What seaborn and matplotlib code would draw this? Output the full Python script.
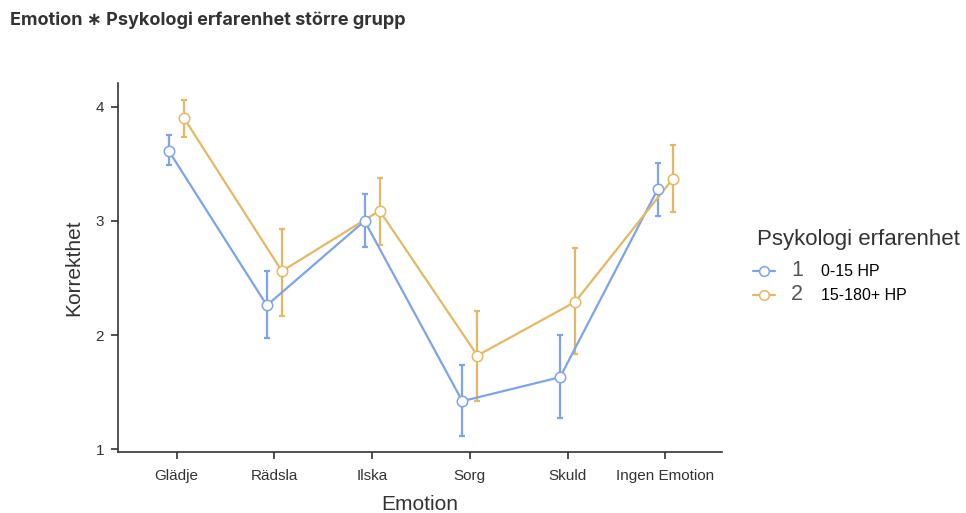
import matplotlib
matplotlib.use("Agg")
import matplotlib.pyplot as plt
import seaborn as sns
import pandas as pd
from matplotlib.lines import Line2D

emotions = ["Glädje", "Rädsla", "Ilska", "Sorg", "Skuld", "Ingen Emotion"]
groups = ["1", "2"]
group_desc = ["0-15 HP", "15-180+ HP"]

mean_g1 = [3.61, 2.26, 3.00, 1.42, 1.63, 3.28]
low_g1 = [3.49, 1.97, 2.77, 1.11, 1.27, 3.04]
high_g1 = [3.75, 2.56, 3.24, 1.74, 2.00, 3.51]

mean_g2 = [3.90, 2.56, 3.09, 1.82, 2.29, 3.37]
low_g2 = [3.74, 2.17, 2.79, 1.42, 1.83, 3.08]
high_g2 = [4.06, 2.93, 3.38, 2.21, 2.76, 3.67]

colors = ["#7DA4E8", "#E4B864"]

sns.set_theme(style="ticks")
plt.rcParams["font.family"] = ["Liberation Sans", "DejaVu Sans"]

fig = plt.figure(figsize=(9.66, 5.13), dpi=100)
ax = fig.add_axes([118 / 966, 1 - 452 / 513, (722 - 118) / 966, (452 - 83) / 513])

offset = 0.077
rows = []
for gi, (m, lo, hi) in enumerate([(mean_g1, low_g1, high_g1), (mean_g2, low_g2, high_g2)]):
    for ei, e in enumerate(emotions):
        rows.append({"pos": ei + (gi * 2 - 1) * offset, "Emotion": e,
                     "grupp": groups[gi], "mean": m[ei], "lo": lo[ei], "hi": hi[ei]})
df = pd.DataFrame(rows)

for gi, g in enumerate(groups):
    sub = df[df["grupp"] == g]
    ax.errorbar(sub["pos"], sub["mean"],
                yerr=[sub["mean"] - sub["lo"], sub["hi"] - sub["mean"]],
                fmt="none", ecolor=colors[gi], elinewidth=1.6, capsize=2.2,
                capthick=1.6, zorder=2)

sns.lineplot(data=df, x="pos", y="mean", hue="grupp", palette=colors,
             linewidth=1.6, legend=False, ax=ax, zorder=3, sort=True)
for gi, g in enumerate(groups):
    sub = df[df["grupp"] == g]
    ax.plot(sub["pos"], sub["mean"], linestyle="none", marker="o", markersize=7.5,
            markerfacecolor="white", markeredgecolor=colors[gi],
            markeredgewidth=1.1, zorder=4)

ax.set_xlim(-0.60, 5.58)
ax.set_ylim(0.974, 4.21)
ax.set_xticks(range(len(emotions)))
ax.set_xticklabels(emotions)
ax.set_yticks([1, 2, 3, 4])
ax.set_yticklabels(["1", "2", "3", "4"])
ax.tick_params(axis="both", labelsize=11, labelcolor="#333333", color="#333333",
               length=5, width=1.2)
ax.tick_params(axis="x", pad=7)
ax.tick_params(axis="y", pad=5)
for side in ["top", "right"]:
    ax.spines[side].set_visible(False)
for side in ["left", "bottom"]:
    ax.spines[side].set_color("#333333")
    ax.spines[side].set_linewidth(1.2)

ax.set_xlabel("Emotion", fontsize=15, color="#333333", labelpad=9)
ax.set_ylabel("Korrekthet", fontsize=15, color="#333333", labelpad=9)

fig.text(10 / 966, 1 - 20 / 513, "Emotion \u2217 Psykologi erfarenhet större grupp",
         fontsize=13, fontweight="bold", color="#333333", va="center",
         family=["Inter", "DejaVu Sans"])

# Legend drawn by hand in figure coordinates
fig.text(757 / 966, 1 - 240 / 513, "Psykologi erfarenhet större grupp",
         fontsize=16, color="#333333", va="center", ha="left")
for i, c in enumerate(colors):
    y = 1 - (271 + i * 24) / 513
    fig.add_artist(Line2D([753 / 966, 775 / 966], [y, y], color=c, linewidth=1.6,
                          transform=fig.transFigure))
    fig.add_artist(Line2D([764 / 966], [y], color=c, marker="o", markersize=7,
                          markerfacecolor="white", markeredgecolor=c,
                          markeredgewidth=1.1, transform=fig.transFigure))
    fig.text(791 / 966, y, groups[i], fontsize=15.5, color="#555555", va="center")
    fig.text(821 / 966, y, group_desc[i], fontsize=11.5, color="black", va="center")

fig.savefig("out.png", dpi=100)
